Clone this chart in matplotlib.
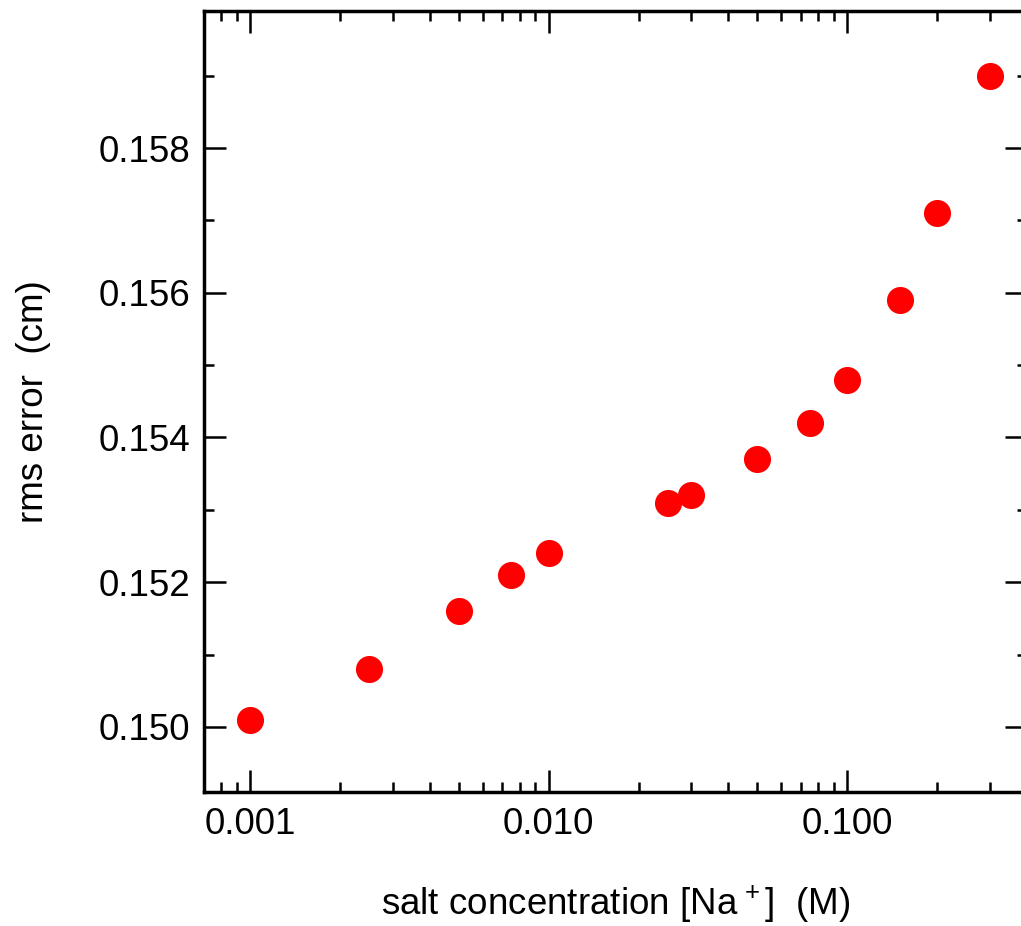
import numpy as np
import matplotlib
matplotlib.use("Agg")
import matplotlib.pyplot as plt
from matplotlib.ticker import FixedLocator, FixedFormatter, MultipleLocator, FormatStrFormatter, LogLocator

plt.rcParams['font.family'] = ['Liberation Sans', 'DejaVu Sans']
plt.rcParams['mathtext.fontset'] = 'custom'
plt.rcParams['mathtext.rm'] = 'Liberation Sans'
plt.rcParams['mathtext.it'] = 'Liberation Sans'

# salt concentration (M) and rms error (cm)
salt = [0.001, 0.0025, 0.005, 0.0075, 0.010, 0.025, 0.030, 0.050, 0.075, 0.100, 0.150, 0.200, 0.300]
rms = [0.1501, 0.1508, 0.1516, 0.1521, 0.1524, 0.1531, 0.1532, 0.1537, 0.1542, 0.1548, 0.1559, 0.1571, 0.1590]

x_ticks = [0.001, 0.01, 0.1]
x_tick_labels = ["0.001", "0.010", "0.100"]

fig = plt.figure(figsize=(10.21, 9.26), dpi=100)
# right edge of the frame runs just past the picture, as in the original
ax = fig.add_axes([0.1998, 0.1447, 0.806, 0.8439])

ax.plot(salt, rms, 'o', color='#ff0000', markersize=19.5, markeredgewidth=0)

ax.set_xscale('log')
ax.set_xlim(0.0007, 0.4)
ax.set_ylim(0.1491, 0.1599)

ax.xaxis.set_major_locator(FixedLocator(x_ticks))
ax.xaxis.set_major_formatter(FixedFormatter(x_tick_labels))
ax.xaxis.set_minor_locator(LogLocator(base=10, subs=np.arange(2, 10)))
ax.xaxis.set_minor_formatter(FixedFormatter([]))
ax.yaxis.set_major_locator(MultipleLocator(0.002))
ax.yaxis.set_minor_locator(MultipleLocator(0.001))
ax.yaxis.set_major_formatter(FormatStrFormatter('%.3f'))

for s in ax.spines.values():
    s.set_linewidth(2.5)

ax.tick_params(which='both', direction='in', top=True, right=True, width=1.8)
ax.tick_params(which='major', length=16)
ax.tick_params(which='minor', length=7.5)
ax.tick_params(axis='x', which='major', labelsize=26.5, pad=11)
ax.tick_params(axis='y', which='major', labelsize=26.5, pad=10)

ax.set_xlabel(r"salt concentration [Na$^{\,+}$]  (M)", fontsize=26.5, labelpad=30)
ax.set_ylabel("rms error  (cm)", fontsize=26.5, labelpad=34)

fig.savefig("out.png", dpi=100)
